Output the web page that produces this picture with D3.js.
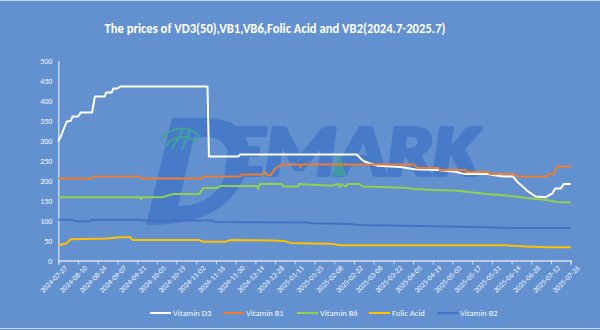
<!DOCTYPE html>
<html>
<head>
<meta charset="utf-8">
<script src="https://cdn.jsdelivr.net/npm/d3@7"></script>
<style>
  html, body { margin: 0; padding: 0; background: #6391cf; }
  svg { display: block; }
  text { font-family: Carlito, Calibri, Lato, "Open Sans", sans-serif; }
</style>
</head>
<body>
<svg id="chart" width="600" height="330"></svg>
<script>
// ---- Data -------------------------------------------------------------
const titleText = "The prices of VD3(50),VB1,VB6,Folic Acid and VB2(2024.7-2025.7)";

const xTickLabels = [
  "2024-07-27","2024-08-10","2024-08-24","2024-09-07","2024-09-21","2024-10-05",
  "2024-10-19","2024-11-02","2024-11-16","2024-11-30","2024-12-14","2024-12-28",
  "2025-01-11","2025-01-25","2025-02-08","2025-02-22","2025-03-08","2025-03-22",
  "2025-04-05","2025-04-19","2025-05-03","2025-05-17","2025-05-31","2025-06-14",
  "2025-06-28","2025-07-12","2025-07-26"
];
const yTicks = [0, 50, 100, 150, 200, 250, 300, 350, 400, 450, 500];

const seriesNames = ["Vitamin D3", "Vitamin B1", "Vitamin B6", "Folic Acid", "Vitamin B2"];
const seriesColors = ["#ffffff", "#ed7d31", "#92d050", "#ffc000", "#4472c4"];

// price observations (date, price) where each series changes
const vd3Dates = ["2024-07-27","2024-07-29","2024-07-31","2024-08-02","2024-08-05","2024-08-06",
  "2024-08-10","2024-08-12","2024-08-20","2024-08-22","2024-08-29","2024-08-30","2024-09-03",
  "2024-09-04","2024-09-07","2024-09-09","2024-11-10","2024-11-11","2024-12-02","2024-12-03",
  "2025-02-24","2025-02-28","2025-03-02","2025-03-05","2025-03-11","2025-03-27","2025-04-06",
  "2025-04-23","2025-05-05","2025-05-12","2025-05-28","2025-06-01","2025-06-08","2025-06-15",
  "2025-06-18","2025-06-26","2025-07-01","2025-07-08","2025-07-13","2025-07-15","2025-07-19",
  "2025-07-21","2025-07-26"];
const vd3Values = [298,312,330,347,350,360,360,370,370,410,410,420,420,430,430,435,435,260,260,265,
  265,251,247,243,237,234,228,226,222,216,216,214,210,210,197,172,160,158,168,180,180,191,191];

const vb1Dates = ["2024-07-27","2024-08-20","2024-08-21","2024-09-23","2024-09-24","2024-11-06",
  "2024-11-07","2024-12-03","2024-12-04","2024-12-19","2024-12-21","2024-12-23","2024-12-25",
  "2024-12-28","2025-01-02","2025-01-14","2025-01-15","2025-01-16","2025-04-06","2025-04-08",
  "2025-04-23","2025-04-24","2025-05-12","2025-05-13","2025-05-28","2025-05-30","2025-06-15",
  "2025-06-19","2025-07-09","2025-07-10","2025-07-14","2025-07-16","2025-07-26"];
const vb1Values = [205,205,210,210,205,205,210,210,215,215,220,213,213,230,240,240,234,240,240,231,
  231,226,226,221,221,216,216,210,210,216,216,235,235];

const vb6Dates = ["2024-07-27","2024-09-23","2024-09-24","2024-09-25","2024-10-09","2024-10-14",
  "2024-10-17","2024-11-04","2024-11-07","2024-11-17","2024-11-19","2024-12-15","2024-12-16",
  "2024-12-17","2025-01-02","2025-01-03","2025-01-13","2025-01-14","2025-02-06","2025-02-11",
  "2025-02-12","2025-02-13","2025-02-16","2025-02-18","2025-02-26","2025-02-28","2025-03-30",
  "2025-04-06","2025-04-19","2025-05-05","2025-05-13","2025-05-27","2025-06-06","2025-06-17",
  "2025-06-24","2025-07-02","2025-07-09","2025-07-16","2025-07-26"];
const vb6Values = [158,158,154,158,158,164,166,166,181,181,186,186,179,191,191,185,185,191,187,191,
  183,191,185,191,191,185,182,179,176,175,172,166,164,160,156,154,151,146,145];

const folicDates = ["2024-07-27","2024-08-02","2024-08-04","2024-08-05","2024-08-31","2024-09-05",
  "2024-09-09","2024-09-16","2024-09-18","2024-11-04","2024-11-07","2024-11-23","2024-11-26",
  "2024-12-27","2025-01-03","2025-01-08","2025-02-02","2025-02-06","2025-02-12","2025-06-10",
  "2025-06-25","2025-07-09","2025-07-26"];
const folicValues = [38,43,51,53,55,57,58,58,51,51,47,47,51,50,49,44,42,42,38,38,35,33,33];

const vb2Dates = ["2024-07-27","2024-08-06","2024-08-08","2024-08-18","2024-08-20","2024-09-24",
  "2024-09-25","2024-11-14","2024-11-16","2025-01-20","2025-01-23","2025-02-20","2025-02-25",
  "2025-04-10","2025-05-26","2025-06-18","2025-07-26"];
const vb2Values = [102,102,98,98,102,102,100,100,96,95,93,91,89,86,83,81,81];

// ---- Build -------------------------------------------------------------
const parse = d3.utcParse("%Y-%m-%d");
const zip = (ds, vs) => ds.map((d, i) => ({ date: parse(d), value: vs[i] }));
const series = [
  zip(vd3Dates, vd3Values),
  zip(vb1Dates, vb1Values),
  zip(vb6Dates, vb6Values),
  zip(folicDates, folicValues),
  zip(vb2Dates, vb2Values)
];

const svg = d3.select("#chart");
const axisColor = "#d6e1f1";
const labelColor = "#f4f7fc";

// edges of the surrounding sheet
svg.append("line").attr("x1", 0).attr("x2", 600).attr("y1", 0.5).attr("y2", 0.5)
  .attr("stroke", "#c9d8ee").attr("stroke-width", 1);
svg.append("line").attr("x1", 0).attr("x2", 600).attr("y1", 328.5).attr("y2", 328.5)
  .attr("stroke", "#c9d8ee").attr("stroke-width", 1);

const x = d3.scaleUtc()
  .domain([parse(xTickLabels[0]), parse(xTickLabels[xTickLabels.length - 1])])
  .range([58.3, 570.7]);
const y = d3.scaleLinear().domain([0, 500]).range([260.5, 60.5]);

// title
svg.append("text")
  .attr("x", 275).attr("y", 33)
  .attr("text-anchor", "middle")
  .attr("fill", "#ffffff")
  .attr("font-weight", "bold")
  .attr("font-size", 13)
  .attr("textLength", 341)
  .attr("lengthAdjust", "spacingAndGlyphs")
  .text(titleText);

// brand watermark
const wm = svg.append("g").attr("class", "watermark");
const wmColor = "#477ac8";
wm.append("path")
  .attr("fill", wmColor)
  .attr("fill-rule", "evenodd")
  .attr("d", "M146,225 L172,118 L206,118 C248,118 258,148 242,182 C226,212 196,225 146,225 Z " +
             "M178,206 L194,137 L205,137 C229,137 234,157 224,179 C214,198 198,206 178,206 Z");
wm.append("text")
  .attr("x", 224).attr("y", 175)
  .attr("font-size", 72)
  .attr("font-weight", 900)
  .attr("font-style", "italic")
  .attr("font-family", "Lato, 'DejaVu Sans', sans-serif")
  .attr("textLength", 254)
  .attr("lengthAdjust", "spacingAndGlyphs")
  .attr("fill", wmColor)
  .attr("stroke", wmColor)
  .attr("stroke-width", 4)
  .attr("stroke-linejoin", "round")
  .text("EMARK");
// globe emblem
const globe = wm.append("g").attr("fill", "none").attr("stroke", "#3fa39a").attr("stroke-width", 2);
globe.append("path").attr("d", "M162,140 C168,126 192,124 200,138");
globe.append("path").attr("d", "M166,146 C172,136 188,134 196,142");
globe.append("path").attr("d", "M172,149 L184,128");
globe.append("path").attr("d", "M182,150 L190,130");
// triangle inside the A
wm.append("path").attr("d", "M339,150 L332,176 L346,176 Z").attr("fill", "#3fa39a").attr("opacity", 0.8);

// y axis
const yAxis = svg.append("g")
  .attr("transform", "translate(58.3,0)")
  .call(d3.axisLeft(y).tickValues(yTicks).tickSize(0).tickPadding(6));
yAxis.select(".domain").attr("stroke", axisColor).attr("stroke-width", 1.3);
yAxis.selectAll("text").attr("fill", labelColor).attr("font-size", 8);

// x axis
const xAxis = svg.append("g")
  .attr("transform", "translate(0,260.5)")
  .call(d3.axisBottom(x)
    .tickValues(xTickLabels.map(parse))
    .tickFormat(d3.utcFormat("%Y-%m-%d"))
    .tickSize(4));
xAxis.select(".domain").attr("stroke", axisColor).attr("stroke-width", 1.3);
xAxis.selectAll(".tick line").attr("stroke", axisColor);
xAxis.selectAll("text")
  .attr("fill", labelColor)
  .attr("font-size", 7.5)
  .attr("text-anchor", "end")
  .attr("transform", "translate(3,2) rotate(-45)")
  .attr("dy", "0.35em")
  .attr("dx", "0")
  .attr("y", 6);

// lines
const line = d3.line().x(d => x(d.date)).y(d => y(d.value));
svg.append("g").selectAll("path")
  .data(series)
  .join("path")
  .attr("fill", "none")
  .attr("stroke", (d, i) => seriesColors[i])
  .attr("stroke-width", 2)
  .attr("stroke-linejoin", "round")
  .attr("d", line);

// legend
const legendX = [150, 223, 297, 369, 437];
const legend = svg.append("g").attr("transform", "translate(0,313)");
const items = legend.selectAll("g").data(seriesNames).join("g")
  .attr("transform", (d, i) => `translate(${legendX[i]},0)`);
items.append("line").attr("x1", 0).attr("x2", 21).attr("y1", 0).attr("y2", 0)
  .attr("stroke", (d, i) => seriesColors[i]).attr("stroke-width", 2);
items.append("text").attr("x", 23).attr("y", 0).attr("dy", "0.35em")
  .attr("fill", labelColor).attr("font-size", 8.5).text(d => d);
</script>
</body>
</html>
